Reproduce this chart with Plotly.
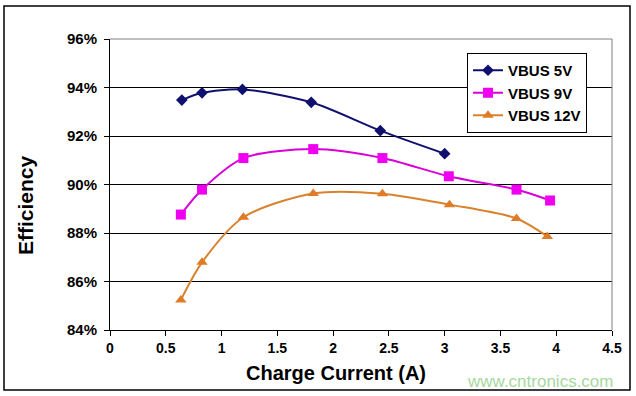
import plotly.graph_objects as go

x_5v = [0.644, 0.825, 1.187, 1.804, 2.423, 3.0]
y_5v = [93.48, 93.78, 93.92, 93.39, 92.22, 91.27]

x_9v = [0.635, 0.825, 1.196, 1.822, 2.442, 3.037, 3.644, 3.945]
y_9v = [88.76, 89.79, 91.09, 91.46, 91.09, 90.34, 89.79, 89.34]

x_12v = [0.635, 0.825, 1.196, 1.822, 2.442, 3.043, 3.644, 3.92]
y_12v = [85.24, 86.79, 88.65, 89.63, 89.62, 89.17, 88.6, 87.86]

x_ticks = [0, 0.5, 1, 1.5, 2, 2.5, 3, 3.5, 4, 4.5]
x_tick_labels = ["0", "0.5", "1", "1.5", "2", "2.5", "3", "3.5", "4", "4.5"]
y_ticks = [84, 86, 88, 90, 92, 94, 96]
y_tick_labels = ["84%", "86%", "88%", "90%", "92%", "94%", "96%"]

FONT = "Liberation Sans, Arial, sans-serif"

fig = go.Figure()
fig.add_trace(go.Scatter(
    x=x_5v, y=y_5v, name="VBUS 5V", mode="lines+markers",
    line=dict(color="#10106E", width=2, shape="spline", smoothing=0.8),
    marker=dict(symbol="diamond", size=9, color="#10106E"),
))
fig.add_trace(go.Scatter(
    x=x_9v, y=y_9v, name="VBUS 9V", mode="lines+markers",
    line=dict(color="#D800D8", width=2, shape="spline", smoothing=0.8),
    marker=dict(symbol="square", size=10, color="#F000F0"),
))
fig.add_trace(go.Scatter(
    x=x_12v, y=y_12v, name="VBUS 12V", mode="lines+markers",
    line=dict(color="#D9822E", width=2, shape="spline", smoothing=0.8),
    marker=dict(symbol="triangle-up", size=10, color="#E07B28"),
))

# plot area in pixels: left 110, right 612, top 39, bottom 330
L, R, T, B = 110, 612, 39, 330
W, H = R - L, B - T

def px(xp):
    return (xp - L) / W

def py(yp):
    return (B - yp) / H

shapes = [
    # outer frame
    dict(type="rect", xref="paper", yref="paper",
         x0=px(4), x1=px(630), y0=py(390), y1=py(6),
         line=dict(color="black", width=1.5), fillcolor="rgba(0,0,0,0)", layer="below"),
    # plot area top/right border (gray)
    dict(type="line", xref="paper", yref="paper", x0=0, x1=1, y0=1, y1=1,
         line=dict(color="#808080", width=1)),
    dict(type="line", xref="paper", yref="paper", x0=1, x1=1, y0=0, y1=1,
         line=dict(color="#808080", width=1)),
]

fig.update_layout(
    width=636, height=396,
    margin=dict(l=L, r=636 - R, t=T, b=396 - B),
    paper_bgcolor="white", plot_bgcolor="white",
    font=dict(family=FONT, color="black"),
    shapes=shapes,
    showlegend=True,
    legend=dict(
        x=px(467), y=py(53), xanchor="left", yanchor="top",
        bordercolor="black", borderwidth=1, bgcolor="white",
        font=dict(size=15, family=FONT, weight="bold"),
        tracegroupgap=0, itemwidth=30,
    ),
    xaxis=dict(
        range=[0, 4.5], tickvals=x_ticks, ticktext=x_tick_labels,
        showgrid=False, zeroline=False,
        showline=True, linecolor="black", linewidth=1,
        ticks="outside", ticklen=5, tickcolor="black",
        tickfont=dict(size=14, family=FONT, weight="bold"),
    ),
    yaxis=dict(
        range=[84, 96], tickvals=y_ticks, ticktext=y_tick_labels,
        showgrid=True, gridcolor="black", gridwidth=1, zeroline=False,
        showline=True, linecolor="black", linewidth=1,
        ticks="outside", ticklen=5, tickcolor="black",
        ticklabelstandoff=4,
        tickfont=dict(size=15, family=FONT, weight="bold"),
    ),
    annotations=[
        dict(text="<b>Charge Current (A)</b>", xref="paper", yref="paper",
             x=px(336), y=py(373), xanchor="center", yanchor="middle",
             showarrow=False, font=dict(size=20, family=FONT, color="black")),
        dict(text="<b>Efficiency</b>", xref="paper", yref="paper",
             x=px(25), y=py(205), xanchor="center", yanchor="middle", textangle=-90,
             showarrow=False, font=dict(size=21, family=FONT, color="black")),
        dict(text="www.cntronics.com", xref="paper", yref="paper",
             x=px(615), y=py(381), xanchor="right", yanchor="middle",
             showarrow=False, font=dict(size=17, family=FONT, color="#A8D8A0")),
    ],
)

fig.write_html("out.html", config={"displayModeBar": False},
               post_script="document.body.style.margin='0';document.body.style.overflow='hidden';")
